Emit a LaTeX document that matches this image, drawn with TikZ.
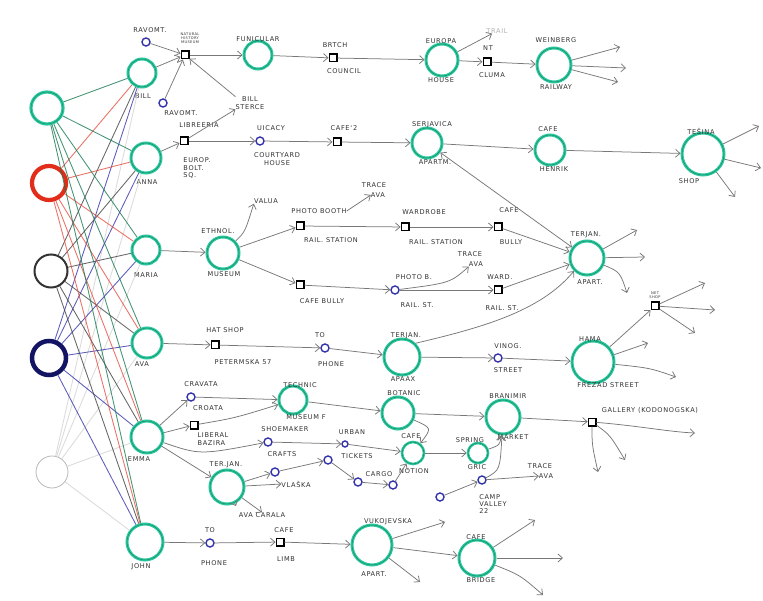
\documentclass[tikz,border=0pt]{standalone}
\usepackage{fontspec}
\newfontfamily\hand[LetterSpace=10]{DejaVu Sans}
\usetikzlibrary{arrows.meta}
\definecolor{mint}{RGB}{45,200,160}
\definecolor{dmint}{RGB}{20,140,100}
\definecolor{pred}{RGB}{225,45,25}
\definecolor{pnavy}{RGB}{20,20,100}
\definecolor{pblue}{RGB}{50,50,170}
\definecolor{ink}{RGB}{50,50,50}
\definecolor{arrg}{RGB}{120,120,120}
\definecolor{lgreen}{RGB}{20,120,80}
\begin{document}
\begin{tikzpicture}[x=1pt,y=-1pt,
  gn/.style={circle,draw=mint,line width=3pt,minimum size=#1,inner sep=0pt,
    postaction={draw=dmint,line width=0.5pt}},
  gn/.default=30pt,
  bn/.style={circle,draw=pblue,line width=1.4pt,minimum size=8pt,inner sep=0pt},
  sq/.style={rectangle,draw=black,line width=1.5pt,minimum size=7.5pt,inner sep=0pt},
  lb/.style={font=\hand\fontsize{6.6}{7.4}\selectfont,text=ink,inner sep=0pt,align=center},
  tn/.style={font=\hand\fontsize{3.6}{4}\selectfont,text=ink,inner sep=0pt,align=center},
  ar/.style={draw=arrg,line width=0.75pt,-{Straight Barb[length=4.5pt,width=8pt]}},
  ar2/.style={draw=arrg,line width=0.75pt,{Straight Barb[length=4.5pt,width=8pt]}-{Straight Barb[length=4.5pt,width=8pt]}},
  lk/.style={line width=0.85pt,opacity=0.8}]
\useasboundingbox[fill=white] (0,0) rectangle (763,601);

% persons
\node[gn=32pt,line width=3.2pt] (p1) at (47,108) {};
\node[circle,draw=pred,line width=4.2pt,minimum size=34pt] (p2) at (49,183) {};
\node[circle,draw=black!80,line width=2pt,minimum size=33pt] (p3) at (51,271) {};
\node[circle,draw=pnavy,line width=4.5pt,minimum size=34pt] (p4) at (49,358) {};
\node[circle,draw=gray!55,line width=0.8pt,minimum size=32pt] (p5) at (52,472) {};

% second column
\node[gn=28pt] (bill) at (142,73) {};
\node[gn=30pt] (anna) at (146,158) {};
\node[gn=28pt] (maria) at (146,250) {};
\node[gn=30pt] (ava) at (147,343) {};
\node[gn=32pt] (emma) at (147,437) {};
\node[gn=36pt] (john) at (145,542) {};
\node[lb] (billL) at (143,96) {BILL};
\node[lb] (annaL) at (147,182) {ANNA};
\node[lb] (mariaL) at (146,275) {MARIA};
\node[lb] (avaL) at (142,364) {AVA};
\node[lb] (emmaL) at (139,459) {EMMA};
\node[lb] (johnL) at (141,567) {JOHN};

\foreach \t in {bill,anna,maria,ava,emma,john}{
  \draw[lk,draw=lgreen] (p1) -- (\t);
  \draw[lk,draw=pred!85] (p2) -- (\t);
  \draw[lk,draw=black!75] (p3) -- (\t);
  \draw[lk,draw=pblue] (p4) -- (\t);
  \draw[lk,draw=gray!35] (p5) -- (\t);
}

% ---------- row 1 : Bill
\node[bn] (rav1) at (146,42) {};
\node[lb] (rav1L) at (150,30) {RAVOMT.};
\node[sq] (nhm) at (185,55) {};
\node[tn] (nhmL) at (190,38) {NATURAL\\HISTORY\\MUSEUM};
\node[bn] (rav2) at (163,103) {};
\node[lb] (rav2L) at (181,113) {RAVOMT.};
\node[lb] (sterce) at (250,103) {BILL\\STERCE};
\node[gn=28pt] (funi) at (258,55) {};
\node[lb] (funiL) at (258,39) {FUNICULAR};
\node[sq] (brit) at (333,58) {};
\node[lb] (britL) at (335,45) {BRTCH};
\node[lb] (britL2) at (344,71) {COUNCIL};
\node[gn=32pt] (europa) at (442,60) {};
\node[lb] (europaL) at (441,41) {EUROPA};
\node[lb] (europaL2) at (441,80) {HOUSE};
\node[lb,text=gray!60] (trail) at (497,31) {TRAIL};
\node[sq] (nt) at (487,62) {};
\node[lb] (ntL) at (488,48) {NT};
\node[lb] (ntL2) at (492,75) {CLUMA};
\node[gn=34pt] (rail) at (554,65) {};
\node[lb] (railL) at (556,40) {WEINBERG};
\node[lb] (railL2) at (556,87) {RAILWAY};
\coordinate (r1a) at (620,47);
\coordinate (r1b) at (626,68);
\coordinate (r1c) at (618,82);

\draw[ar] (rav1) -- (nhm);
\draw[ar] (rav2) -- (nhm);
\draw[ar] (bill) -- (nhm);
\draw[ar] (sterce.north west) -- (nhm);
\draw[ar] (nhm) -- (funi);
\draw[ar] (funi) -- (brit);
\draw[ar] (brit) -- (europa);
\draw[ar] (europa) -- (trail);
\draw[ar] (europa) -- (nt);
\draw[ar] (nt) -- (rail);
\draw[ar] (rail) -- (r1a);
\draw[ar] (rail) -- (r1b);
\draw[ar] (rail) -- (r1c);

% ---------- row 2 : Anna
\node[sq] (lib) at (184,141) {};
\node[lb] (libL) at (199,125) {LIBREERIA};
\node[lb,align=left] (libL2) at (197,168) {EUROP.\\BOLT.\\SQ.};
\node[bn] (uic) at (260,141) {};
\node[lb] (uicL) at (271,128) {UICACY};
\node[lb] (uicL2) at (277,159) {COURTYARD\\HOUSE};
\node[sq] (cafe2) at (337,142) {};
\node[lb] (cafe2L) at (344,128) {CAFE'\,2};
\node[gn=30pt] (serj) at (427,143) {};
\node[lb] (serjL) at (432,125) {SERJAVICA};
\node[lb] (serjL2) at (435,162) {APARTM.};
\node[gn=30pt] (henrik) at (550,150) {};
\node[lb] (henrikL) at (548,129) {CAFE};
\node[lb] (henrikL2) at (554,169) {HENRIK};
\node[gn=42pt] (terina) at (703,154) {};
\node[lb] (terinaL) at (701,131) {TEŠINA};
\node[lb] (terinaL2) at (689,181) {SHOP};
\coordinate (r2a) at (759,126);
\coordinate (r2b) at (761,168);
\coordinate (r2c) at (735,197);

\draw[ar] (anna) -- (lib);
\draw[ar] (lib) -- (sterce.south west);
\draw[ar] (lib) -- (uic);
\draw[ar] (uic) -- (cafe2);
\draw[ar] (cafe2) -- (serj);
\draw[ar] (serj) -- (henrik);
\draw[ar] (henrik) -- (terina);
\draw[ar] (terina) -- (r2a);
\draw[ar] (terina) -- (r2b);
\draw[ar] (terina) -- (r2c);

% ---------- row 3 : Maria
\node[gn=32pt] (ethno) at (223,253) {};
\node[lb] (ethnoL) at (218,231) {ETHNOL.};
\node[lb] (ethnoL2) at (224,274) {MUSEUM};
\node[lb] (valua) at (266,201) {VALUA};
\node[sq] (pb) at (300,226) {};
\node[lb] (pbL) at (319,211) {PHOTO BOOTH};
\node[lb] (pbL2) at (331,240) {RAIL. STATION};
\node[lb] (trace1) at (374,185) {TRACE};
\node[lb] (trace1b) at (378,195) {AVA};
\node[sq] (ward) at (405,227) {};
\node[lb] (wardL) at (424,212) {WARDROBE};
\node[lb] (wardL2) at (436,242) {RAIL. STATION};
\node[sq] (cafeb) at (498,227) {};
\node[lb] (cafebL) at (509,210) {CAFE};
\node[lb] (cafebL2) at (511,242) {BULLY};
\node[gn=34pt] (terjap) at (587,258) {};
\node[lb] (terjapL) at (586,235) {TERJAN.};
\node[lb] (terjapL2) at (590,282) {APART.};
\node[sq] (cb) at (300,285) {};
\node[lb] (cbL) at (322,301) {CAFE BULLY};
\node[bn] (photob) at (395,290) {};
\node[lb] (photobL) at (414,277) {PHOTO B.};
\node[lb] (photobL2) at (417,305) {RAIL. ST.};
\node[lb] (trace2) at (470,254) {TRACE};
\node[lb] (trace2b) at (476,264) {AVA};
\node[sq] (ward2) at (498,290) {};
\node[lb] (ward2L) at (500,277) {WARD.};
\node[lb] (ward2L2) at (502,308) {RAIL. ST.};
\coordinate (r3a) at (637,230);
\coordinate (r3b) at (645,257);
\coordinate (r3c) at (627,293);

\draw[ar] (maria) -- (ethno);
\draw[ar] (ethno) .. controls (245,232) .. (valua.south west);
\draw[ar] (ethno) -- (pb);
\draw[ar] (pbL.east) -- (trace1b.west);
\draw[ar] (pb) -- (ward);
\draw[ar] (ward) -- (cafeb);
\draw[ar] (cafeb) -- (terjap);
\draw[ar] (ethno) -- (cb);
\draw[ar] (cb) -- (photob);
\draw[ar] (photob) .. controls (450,283) .. (trace2b.south west);
\draw[ar] (photob) -- (ward2);
\draw[ar] (ward2) -- (terjap);
\draw[ar2] (terjap) -- (serj);
\draw[ar] (terjap) -- (r3a);
\draw[ar] (terjap) -- (r3b);
\draw[ar] (terjap) .. controls (620,272) .. (r3c);

% ---------- row 4 : Ava
\node[sq] (hat) at (215,345) {};
\node[lb] (hatL) at (225,330) {HAT SHOP};
\node[lb] (hatL2) at (243,362) {PETERMSKA 57};
\node[bn] (tophone) at (325,348) {};
\node[lb] (tophoneL) at (320,335) {TO};
\node[lb] (tophoneL2) at (331,364) {PHONE};
\node[gn=36pt] (terjax) at (402,357) {};
\node[lb] (terjaxL) at (406,336) {TERJAN.};
\node[lb] (terjaxL2) at (403,379) {APAAX};
\node[bn] (vinog) at (498,358) {};
\node[lb] (vinogL) at (508,346) {VINOG.};
\node[lb] (vinogL2) at (508,370) {STREET};
\node[gn=42pt] (hana) at (593,362) {};
\node[lb] (hanaL) at (590,339) {HAMA};
\node[lb] (hanaL2) at (608,385) {FREZAD STREET};
\node[sq] (netshop) at (655,306) {};
\node[tn] (netshopL) at (655,295) {NET\\SHOP};
\coordinate (r4a) at (705,283);
\coordinate (r4b) at (715,310);
\coordinate (r4c) at (695,333);
\coordinate (h1) at (648,343);
\coordinate (h2) at (676,377);

\draw[ar] (ava) -- (hat);
\draw[ar] (hat) -- (tophone);
\draw[ar] (tophone) -- (terjax);
\draw[ar] (terjax) -- (vinog);
\draw[ar] (vinog) -- (hana);
\draw[ar] (terjax.north east) .. controls (480,328) and (540,312) .. (terjap.south west);
\draw[ar] (hana) -- (netshop);
\draw[ar] (hana) -- (h1);
\draw[ar] (hana) .. controls (650,368) .. (h2);
\draw[ar] (netshop) -- (r4a);
\draw[ar] (netshop) -- (r4b);
\draw[ar] (netshop) -- (r4c);

% ---------- row 5 : Emma
\node[bn] (crav) at (191,397) {};
\node[lb] (cravL) at (201,384) {CRAVATA};
\node[lb] (cravL2) at (208,408) {CROATA};
\node[sq] (lib2) at (194,425) {};
\node[lb,align=left] (lib2L) at (213,439) {LIBERAL\\BAZIRA};
\node[gn=28pt] (tech) at (293,400) {};
\node[lb] (techL) at (300,385) {TECHNIC};
\node[lb] (techL2) at (306,417) {MUSEUM F};
\node[gn=32pt] (bot) at (398,413) {};
\node[lb] (botL) at (404,393) {BOTANIC};
\node[gn=34pt] (bran) at (503,417) {};
\node[lb] (branL) at (508,396) {BRANIMIR};
\node[lb] (branL2) at (513,437) {MARKET};
\node[sq] (gallery) at (592,422) {};
\node[lb] (galleryL) at (650,410) {GALLERY (KODONOGSKA)};
\coordinate (g1) at (598,472);
\coordinate (g2) at (625,460);
\coordinate (g3) at (695,433);
\node[gn=34pt] (tja) at (227,487) {};
\node[lb] (tjaL) at (226,465) {TER.JAN.};
\node[bn] (shoe) at (268,442) {};
\node[lb] (shoeL) at (285,429) {SHOEMAKER};
\node[lb] (shoeL2) at (282,454) {CRAFTS};
\node[bn] (b1) at (275,472) {};
\node[bn] (b2) at (328,460) {};
\node[bn,minimum size=6pt] (burb) at (345,444) {};
\node[lb] (urbL) at (352,432) {URBAN};
\node[lb] (urbL2) at (357,456) {TICKETS};
\node[lb] (vlaska) at (296,484) {VLAŠKA};
\node[lb] (avacar) at (262,515) {AVA CARALA};
\coordinate (tdown) at (236,506);
\node[bn] (bcargo) at (358,482) {};
\node[lb] (bcargoL) at (379,474) {CARGO};
\node[gn=22pt,line width=2.6pt] (cott) at (413,453) {};
\node[lb] (cottL) at (411,436) {CAFE};
\node[lb] (cottL2) at (414,471) {NOTION};
\node[gn=20pt,line width=2.6pt] (spring) at (478,453) {};
\node[lb] (springL) at (470,440) {SPRING};
\node[lb] (springL2) at (477,467) {GRIC};
\node[bn] (b3) at (393,485) {};
\node[bn] (b4) at (440,497) {};
\node[bn] (b5) at (482,480) {};
\node[lb] (trace3) at (540,466) {TRACE};
\node[lb] (trace3b) at (546,476) {AVA};
\node[lb,align=left] (camp) at (493,504) {CAMP\\VALLEY\\22};

\draw[ar] (emma) -- (crav);
\draw[ar] (emma) -- (lib2);
\draw[ar] (crav) -- (tech);
\draw[ar] (lib2) .. controls (235,418) .. (tech);
\draw[ar] (tech) -- (bot);
\draw[ar] (bot) -- (bran);
\draw[ar] (bran) -- (gallery);
\draw[ar] (gallery) .. controls (592,445) .. (g1);
\draw[ar] (gallery) .. controls (610,435) .. (g2);
\draw[ar] (gallery) .. controls (640,426) and (670,432) .. (g3);
\draw[ar] (emma) -- (tja);
\draw[ar] (emma) .. controls (200,455) .. (shoe);
\draw[ar] (tja) -- (b1);
\draw[ar] (b1) -- (b2);
\draw[ar] (tja) -- (vlaska.west);
\draw[ar] (tja) -- (avacar.north);
\draw[ar] (tja) -- (tdown);
\draw[ar] (shoe) -- (burb);
\draw[ar] (burb) -- (cott);
\draw[ar] (b2) -- (bcargo);
\draw[ar] (bcargo) -- (b3);
\draw[ar] (bot) .. controls (432,428) .. (cott);
\draw[ar] (b3) -- (cott);
\draw[ar] (cott) -- (spring);
\draw[ar] (spring) .. controls (500,445) .. (bran);
\draw[ar] (b4) -- (b5);
\draw[ar] (b5) .. controls (500,470) .. (bran);
\draw[ar] (b5) -- (trace3b.west);

% ---------- row 6 : John
\node[bn] (top2) at (210,543) {};
\node[lb] (top2L) at (210,530) {TO};
\node[lb] (top2L2) at (214,563) {PHONE};
\node[sq] (limb) at (280,542) {};
\node[lb] (limbL) at (284,530) {CAFE};
\node[lb] (limbL2) at (286,559) {LIMB};
\node[gn=40pt] (vuko) at (372,545) {};
\node[lb] (vukoL) at (388,522) {VUKOJEVSKA};
\node[lb] (vukoL2) at (374,574) {APART.};
\coordinate (v1) at (445,522);
\coordinate (v2) at (420,582);
\node[gn=36pt] (bridge) at (477,558) {};
\node[lb] (bridgeL) at (476,537) {CAFE};
\node[lb] (bridgeL2) at (481,580) {BRIDGE};
\coordinate (bo1) at (535,520);
\coordinate (bo2) at (563,558);
\coordinate (bo3) at (543,595);

\draw[ar] (john) -- (top2);
\draw[ar] (top2) -- (limb);
\draw[ar] (limb) -- (vuko);
\draw[ar] (vuko) -- (v1);
\draw[ar] (vuko) -- (v2);
\draw[ar] (vuko) -- (bridge);
\draw[ar] (bridge) -- (bo1);
\draw[ar] (bridge) -- (bo2);
\draw[ar] (bridge) .. controls (520,575) .. (bo3);
\end{tikzpicture}
\end{document}
